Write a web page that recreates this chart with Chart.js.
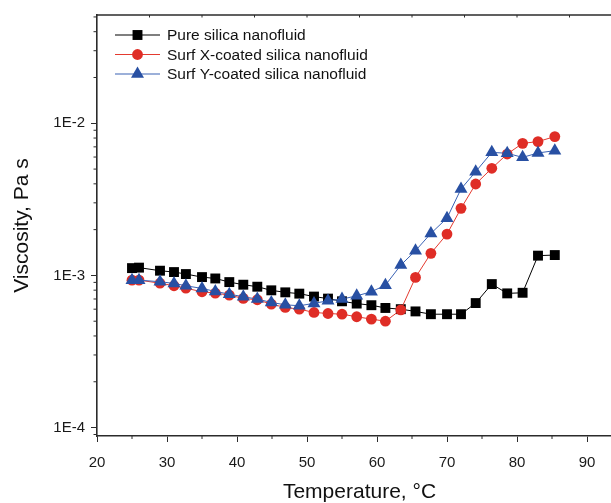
<!DOCTYPE html>
<html>
<head>
<meta charset="utf-8">
<script src="https://cdn.jsdelivr.net/npm/chart.js@4.4.1/dist/chart.umd.min.js"></script>
<style>
  html, body { margin: 0; padding: 0; background: #fff; overflow: hidden; }
  #wrap { width: 611px; height: 503px; overflow: hidden; }
</style>
</head>
<body>
<div id="wrap"><canvas id="chart" width="640" height="503"></canvas></div>
<script>
// ===== DATA =====
const temperatures = [25, 26, 29, 31, 32.7, 35, 36.9, 38.9, 40.9, 42.9, 44.9, 46.9, 48.9, 51, 53,
  55, 57.1, 59.2, 61.2, 63.4, 65.5, 67.7, 70, 72, 74.1, 76.4, 78.6, 80.8, 83, 85.4];

// viscosity in mPa s (converted to Pa s below)
const pureSilica = [1.117, 1.125, 1.074, 1.052, 1.021, 0.975, 0.955, 0.904, 0.869, 0.843, 0.798, 0.774,
  0.759, 0.726, 0.704, 0.676, 0.653, 0.637, 0.611, 0.600, 0.580, 0.556, 0.556, 0.556, 0.658, 0.877,
  0.762, 0.769, 1.349, 1.361];
const surfX = [0.931, 0.931, 0.889, 0.855, 0.824, 0.781, 0.765, 0.742, 0.706, 0.692, 0.647, 0.616,
  0.600, 0.571, 0.562, 0.556, 0.535, 0.516, 0.500, 0.594, 0.970, 1.397, 1.87, 2.76, 3.99, 5.06,
  6.28, 7.38, 7.58, 8.18];
const surfY = [0.931, 0.931, 0.909, 0.886, 0.855, 0.821, 0.785, 0.753, 0.724, 0.699, 0.664, 0.641,
  0.632, 0.655, 0.682, 0.699, 0.734, 0.781, 0.863, 1.169, 1.454, 1.889, 2.38, 3.70, 4.81, 6.44,
  6.35, 5.97, 6.38, 6.61];

const seriesNames = ['Pure silica nanofluid', 'Surf X-coated silica nanofluid', 'Surf Y-coated silica nanofluid'];
const xTicks = [20, 30, 40, 50, 60, 70, 80, 90];
const yTicks = [1e-4, 1e-3, 1e-2];
const xRange = [20, 95];
const yRange = [8.8e-5, 5.15e-2];

const FONT = "'Liberation Sans', Arial, sans-serif";
const AXIS = '#2b2b2b';

const toPoints = (vals) => vals.map((v, i) => ({ x: temperatures[i], y: v * 1e-3 }));

// Minor ticks, top-border ticks, and line+marker legend
const decorPlugin = {
  id: 'decor',
  afterDraw(chart) {
    const ctx = chart.ctx;
    const area = chart.chartArea;
    const xs = chart.scales.x;
    const ys = chart.scales.y;
    ctx.save();
    ctx.strokeStyle = AXIS;

    // top border
    ctx.lineWidth = 1.6;
    ctx.beginPath();
    ctx.moveTo(area.left - 0.8, area.top);
    ctx.lineTo(area.right, area.top);
    ctx.stroke();

    ctx.lineWidth = 1;
    ctx.beginPath();
    // x minor ticks (down)
    for (let t = xRange[0] + 5; t < xRange[1]; t += 10) {
      const px = xs.getPixelForValue(t);
      ctx.moveTo(px, area.bottom);
      ctx.lineTo(px, area.bottom + 3);
    }
    // top ticks (inward), 10 divisions
    for (let k = 1; k < 10; k++) {
      const px = xs.getPixelForValue(xRange[0] + k * (xRange[1] - xRange[0]) / 10);
      ctx.moveTo(px, area.top);
      ctx.lineTo(px, area.top + 2.5);
    }
    // y minor log ticks (outward)
    for (let d = -5; d <= -1; d++) {
      for (let m = 2; m <= 9; m++) {
        const v = m * Math.pow(10, d);
        if (v < yRange[0] || v > yRange[1]) continue;
        const py = ys.getPixelForValue(v);
        ctx.moveTo(area.left, py);
        ctx.lineTo(area.left - 3.5, py);
      }
    }
    ctx.stroke();

    // legend (drawn in dataset index order)
    const lx = area.left + 18;
    const lw = 45;
    const ly = area.top + 20;
    const step = 19.5;
    ctx.font = '15.5px ' + FONT;
    ctx.textBaseline = 'middle';
    ctx.textAlign = 'left';
    chart.data.datasets.forEach((ds, i) => {
      const y = ly + i * step;
      ctx.strokeStyle = ds.borderColor;
      ctx.lineWidth = 1.2;
      ctx.beginPath();
      ctx.moveTo(lx, y);
      ctx.lineTo(lx + lw, y);
      ctx.stroke();
      ctx.fillStyle = ds.pointBackgroundColor;
      ctx.strokeStyle = ds.pointBorderColor;
      Chart.helpers.drawPoint(ctx, {
        pointStyle: ds.pointStyle,
        radius: ds.pointRadius,
        borderWidth: ds.pointBorderWidth,
        rotation: 0
      }, lx + lw / 2, y);
      ctx.fillStyle = '#111';
      ctx.fillText(ds.label, lx + lw + 7, y + 1);
    });
    ctx.restore();
  }
};

const chart = new Chart(document.getElementById('chart'), {
  type: 'line',
  data: {
    datasets: [
      {
        label: seriesNames[0],
        data: toPoints(pureSilica),
        order: 3,
        borderColor: '#000000',
        borderWidth: 1,
        pointStyle: 'rect',
        pointRadius: 7,
        pointBackgroundColor: '#000000',
        pointBorderColor: '#000000',
        pointBorderWidth: 0
      },
      {
        label: seriesNames[1],
        data: toPoints(surfX),
        order: 2,
        borderColor: '#e43a2f',
        borderWidth: 1,
        pointStyle: 'circle',
        pointRadius: 5.4,
        pointBackgroundColor: '#df2d26',
        pointBorderColor: '#df2d26',
        pointBorderWidth: 0
      },
      {
        label: seriesNames[2],
        data: toPoints(surfY),
        order: 1,
        borderColor: '#3a62b4',
        borderWidth: 1,
        pointStyle: 'triangle',
        pointRadius: 7.5,
        pointBackgroundColor: '#2850a3',
        pointBorderColor: '#2850a3',
        pointBorderWidth: 0
      }
    ]
  },
  options: {
    responsive: false,
    animation: false,
    layout: { autoPadding: false, padding: { top: 12.5, right: 18, left: 0, bottom: 0 } },
    plugins: {
      legend: { display: false },
      tooltip: { enabled: false }
    },
    scales: {
      x: {
        type: 'linear',
        min: xRange[0],
        max: xRange[1],
        afterBuildTicks: (scale) => { scale.ticks = xTicks.map(v => ({ value: v })); },
        afterFit: (scale) => { scale.height = 67; },
        border: { display: true, color: AXIS, width: 1.6 },
        grid: { drawOnChartArea: false, drawTicks: true, tickLength: 6, color: AXIS, lineWidth: 1 },
        ticks: { color: '#1a1a1a', font: { family: FONT, size: 15 }, padding: 12, maxRotation: 0 },
        title: {
          display: true,
          text: 'Temperature, °C',
          color: '#111',
          font: { family: FONT, size: 21, lineHeight: 1.0 },
          padding: { top: 0, bottom: 0 }
        }
      },
      y: {
        type: 'logarithmic',
        min: yRange[0],
        max: yRange[1],
        afterBuildTicks: (scale) => { scale.ticks = yTicks.map(v => ({ value: v })); },
        afterFit: (scale) => { scale.width = 97; },
        border: { display: true, color: AXIS, width: 1.6 },
        grid: { drawOnChartArea: false, drawTicks: true, tickLength: 6, color: AXIS, lineWidth: 1 },
        ticks: {
          color: '#1a1a1a',
          font: { family: FONT, size: 15 },
          padding: 6,
          callback: (v) => '1E' + Math.round(Math.log10(v))
        },
        title: {
          display: true,
          text: 'Viscosity, Pa s',
          color: '#111',
          font: { family: FONT, size: 21, lineHeight: 1.0 },
          padding: { top: 11.5, bottom: 0 }
        }
      }
    }
  },
  plugins: [decorPlugin]
});
</script>
</body>
</html>
